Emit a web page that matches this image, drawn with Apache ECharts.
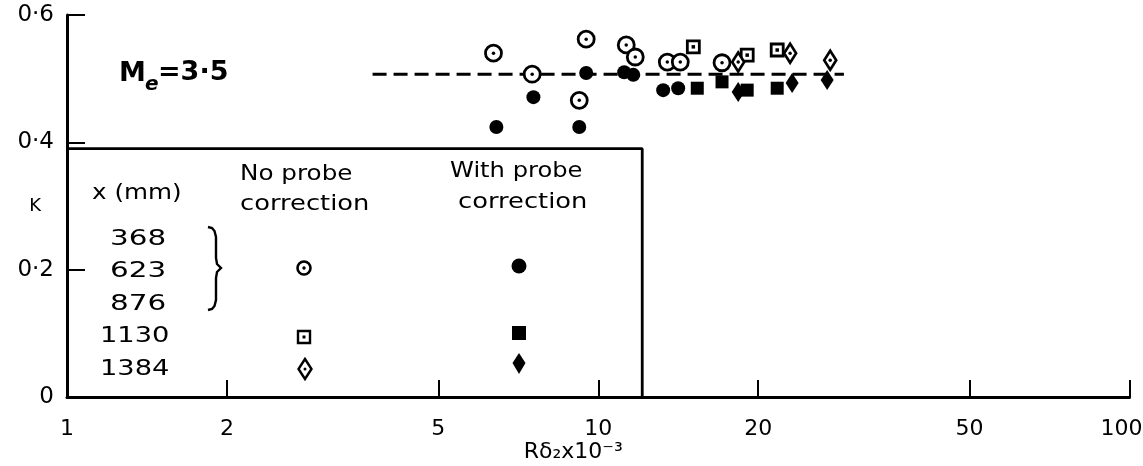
<!DOCTYPE html>
<html>
<head>
<meta charset="utf-8">
<script src="https://cdn.jsdelivr.net/npm/echarts@6/dist/echarts.min.js"></script>
<style>
  html, body { margin: 0; padding: 0; background: #fff; }
  #chart { width: 1143px; height: 466px; }
</style>
</head>
<body>
<div id="chart"></div>
<script>
// K against R·delta2 (x10^-3), Me = 3.5
const xTickValues = [2, 5, 10, 20, 50, 100];
const xLabelValues = [1, 2, 5, 10, 20, 50, 100];
const yLabelText = { 0: '0', 0.2: '0·2', 0.4: '0·4', 0.6: '0·6' };

// x = 368, 623, 876 mm, no probe correction
const openCircle = [[6.35,0.540],[7.51,0.507],[9.49,0.562],[9.21,0.466],[11.29,0.553],[11.74,0.534],[13.49,0.526],[14.27,0.526],[17.1,0.525]];
// x = 368, 623, 876 mm, with probe correction
const filledCircle = [[6.43,0.424],[7.55,0.471],[9.21,0.424],[9.49,0.509],[11.19,0.510],[11.64,0.506],[13.25,0.482],[14.14,0.485]];
// x = 1130 mm
const openSquare = [[15.1,0.550],[19.07,0.537],[21.72,0.545]];
const filledSquare = [[15.36,0.485],[17.1,0.495],[19.07,0.482],[21.72,0.485]];
// x = 1384 mm
const openDiamond = [[18.34,0.526],[22.97,0.540],[27.33,0.529]];
const filledDiamond = [[18.34,0.479],[23.17,0.493],[26.97,0.498]];
// mean level
const meanLine = [[3.76,0.507],[29.0,0.507]];
// key frame (top and right edges)
const keyFrame = [[1,0.39],[12.1,0.39],[12.1,0]];

const FONT = 'DejaVu Sans';
const chart = echarts.init(document.getElementById('chart'), null, { renderer: 'canvas' });

function marker(name, data, symbol, size, filled, z) {
  return {
    name, type: 'scatter', data, symbol, symbolSize: size, z,
    itemStyle: filled
      ? { color: '#000', borderWidth: 0, opacity: 1 }
      : { color: '#fff', borderColor: '#000', borderWidth: 2.8, opacity: 1 },
    emphasis: { disabled: true }
  };
}
function centreDot(name, data, symbol, z) {
  return {
    name, type: 'scatter', data, symbol, symbolSize: 3.5, z, silent: true,
    itemStyle: { color: '#000', opacity: 1 }, emphasis: { disabled: true }
  };
}

// key text, stretched sideways like the hand lettering
function keyText(x, y, text, size, sx) {
  return {
    type: 'text', x, y, scaleX: sx || 1.15,
    style: { text, font: (size || 22) + 'px "' + FONT + '"', fill: '#000', textAlign: 'left', textVerticalAlign: 'middle' }
  };
}

const graphics = [
  // Me = 3.5
  { type: 'text', x: 119, y: 74, style: { text: 'M', font: 'bold 27px "' + FONT + '"', fill: '#000', textVerticalAlign: 'middle' } },
  { type: 'text', x: 145, y: 85, style: { text: 'e', font: 'bold italic 20px "' + FONT + '"', fill: '#000', textVerticalAlign: 'middle' } },
  { type: 'text', x: 158, y: 73, style: { text: '=3·5', font: 'bold 27px "' + FONT + '"', fill: '#000', textVerticalAlign: 'middle' } },

  keyText(92, 193, 'x (mm)', 22, 1.12),
  keyText(240, 174, 'No probe', 22, 1.12),
  keyText(240, 204, 'correction', 22, 1.17),
  keyText(450, 171, 'With probe', 22, 1.1),
  keyText(458, 202, 'correction', 22, 1.17),
  keyText(110, 240, '368', 21, 1.4),
  keyText(110, 272, '623', 21, 1.4),
  keyText(110, 305, '876', 21, 1.4),
  keyText(100, 337, '1130', 21, 1.3),
  keyText(100, 370, '1384', 21, 1.3),
  // brace grouping the first three stations
  { type: 'polyline',
    shape: { points: [[208,227],[212,228],[214.5,231],[216,237],[216,258],[217,264],[221,268],[217,272],[216,278],[216,300],[214.5,306],[212,309],[208,310]] },
    style: { stroke: '#000', lineWidth: 2.4, fill: null } },
  // key symbols
  { type: 'circle', shape: { cx: 304, cy: 268, r: 6.5 }, style: { fill: '#fff', stroke: '#000', lineWidth: 2.6 } },
  { type: 'circle', shape: { cx: 304, cy: 268, r: 1.7 }, style: { fill: '#000' } },
  { type: 'rect', shape: { x: 298, y: 331, width: 12, height: 12 }, style: { fill: '#fff', stroke: '#000', lineWidth: 2.4 } },
  { type: 'rect', shape: { x: 302.5, y: 335.5, width: 3, height: 3 }, style: { fill: '#000' } },
  { type: 'polygon', shape: { points: [[305,359],[311.5,369],[305,379],[298.5,369]] }, style: { fill: '#fff', stroke: '#000', lineWidth: 2.4 } },
  { type: 'circle', shape: { cx: 305, cy: 369, r: 1.5 }, style: { fill: '#000' } },
  { type: 'circle', shape: { cx: 519, cy: 266, r: 7.5 }, style: { fill: '#000' } },
  { type: 'rect', shape: { x: 512, y: 326, width: 14, height: 14 }, style: { fill: '#000' } },
  { type: 'polygon', shape: { points: [[519,353],[525.5,363],[519,374],[512.5,363]] }, style: { fill: '#000' } }
];

chart.setOption({
  animation: false,
  backgroundColor: '#fff',
  textStyle: { fontFamily: FONT, color: '#000' },
  grid: { left: 67, right: 13.5, top: 15, bottom: 69, containLabel: false, outerBoundsMode: 'none' },
  xAxis: {
    type: 'log', logBase: 10, min: 1, max: 100,
    name: 'Rδ₂x10⁻³', nameLocation: 'middle', nameGap: 44, nameMoveOverlap: false,
    nameTextStyle: { fontFamily: FONT, fontSize: 22, color: '#000', padding: [0, 50, 0, 0] },
    axisLine: { show: true, lineStyle: { color: '#000', width: 3 } },
    axisTick: { show: true, inside: true, length: 17, customValues: xTickValues, lineStyle: { color: '#000', width: 2 } },
    minorTick: { show: false },
    axisLabel: {
      customValues: xLabelValues, margin: 21, fontFamily: FONT, fontSize: 22, color: '#000',
      // the last label is nudged left so it stays on the page
      formatter: v => (v === 100 ? '{end|' + v + '}' : String(v)),
      rich: { end: { fontFamily: FONT, fontSize: 22, color: '#000', padding: [0, 16, 0, 0] } }
    },
    splitLine: { show: false }
  },
  yAxis: {
    type: 'value', min: 0, max: 0.6, interval: 0.2,
    name: 'K', nameLocation: 'middle', nameRotate: 0, nameGap: 26, nameMoveOverlap: false,
    nameTextStyle: { fontFamily: FONT, fontSize: 18, color: '#000', padding: [0, 0, 14, 0] },
    axisLine: { show: true, lineStyle: { color: '#000', width: 3 } },
    axisTick: { show: true, inside: true, length: 18, lineStyle: { color: '#000', width: 2 } },
    axisLabel: { margin: 13, fontFamily: FONT, fontSize: 23, color: '#000', formatter: v => yLabelText[Math.round(v * 10) / 10] },
    splitLine: { show: false }
  },
  series: [
    { name: 'key frame', type: 'line', data: keyFrame, symbol: 'none', silent: true, z: 1,
      lineStyle: { color: '#000', width: 2.8 } },
    { name: 'mean', type: 'line', data: meanLine, symbol: 'none', silent: true, z: 2,
      lineStyle: { color: '#000', width: 3, type: [14, 7] } },
    marker('filled circle', filledCircle, 'circle', 14, true, 5),
    marker('filled square', filledSquare, 'rect', 13, true, 5),
    marker('filled diamond', filledDiamond, 'diamond', [13, 20], true, 5),
    marker('open circle', openCircle, 'circle', 16, false, 6),
    centreDot('open circle dot', openCircle, 'circle', 7),
    marker('open square', openSquare, 'rect', 12, false, 6),
    centreDot('open square dot', openSquare, 'rect', 7),
    marker('open diamond', openDiamond, 'diamond', [12, 19], false, 6),
    centreDot('open diamond dot', openDiamond, 'circle', 7)
  ],
  graphic: graphics
});
</script>
</body>
</html>
